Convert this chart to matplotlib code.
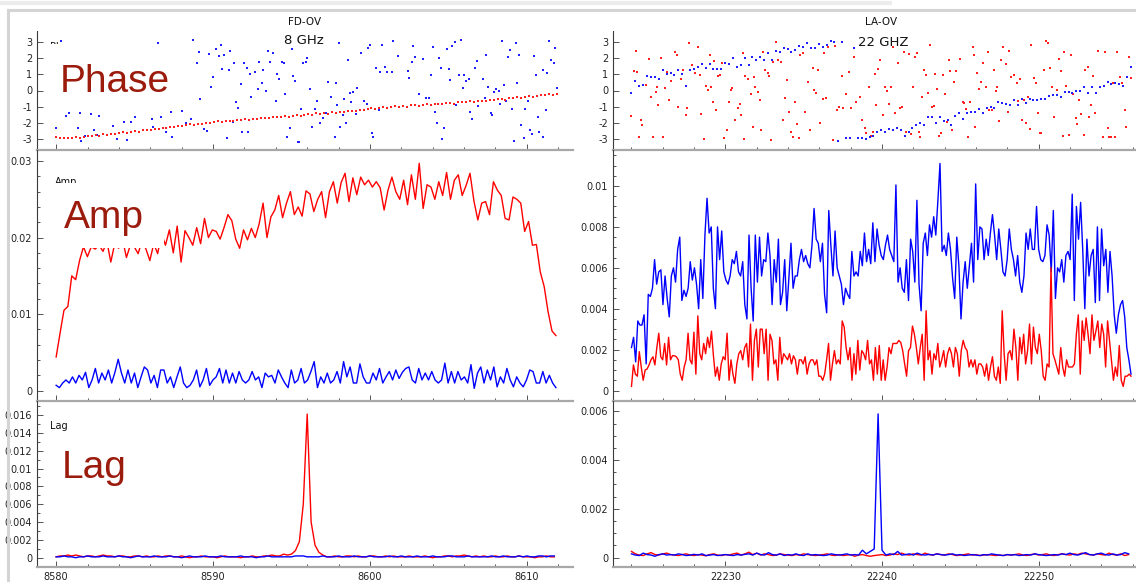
import numpy as np
import matplotlib
matplotlib.use("Agg")
import matplotlib.pyplot as plt
from matplotlib.ticker import MultipleLocator, FuncFormatter
from matplotlib.lines import Line2D
from matplotlib.patches import Rectangle

# ---------------- data ----------------
LEFT_F0, LEFT_F1 = 8580.0, 8612.0
RIGHT_F0, RIGHT_F1 = 22224.0, 22255.9

# Left (8 GHz) phase, red trend (rad)
left_phase_red = [
    -2.86, -2.92, -2.95, -2.90, -2.93, -2.88, -2.91, -2.84, -2.82, -2.78, -2.76, -2.80,
    -2.70, -2.74, -2.66, -2.68, -2.62, -2.58, -2.64, -2.55, -2.50, -2.56, -2.46, -2.43,
    -2.41, -2.36, -2.38, -2.30, -2.32, -2.24, -2.27, -2.19, -2.16, -2.12, -2.08, -2.14,
    -2.04, -2.06, -1.99, -2.01, -1.96, -1.90, -1.94, -1.88, -1.86, -1.89, -1.82, -1.80,
    -1.77, -1.81, -1.74, -1.76, -1.71, -1.68, -1.72, -1.64, -1.62, -1.66, -1.58, -1.60,
    -1.55, -1.51, -1.56, -1.48, -1.46, -1.50, -1.41, -1.44, -1.38, -1.42, -1.34, -1.36,
    -1.30, -1.33, -1.27, -1.24, -1.25, -1.18, -1.21, -1.14, -1.10, -1.14, -1.08, -1.04,
    -1.06, -1.00, -0.98, -1.02, -0.95, -0.99, -0.92, -0.90, -0.93, -0.88, -0.85, -0.89,
    -0.84, -0.80, -0.83, -0.77, -0.76, -0.80, -0.73, -0.71, -0.70, -0.66, -0.72, -0.64,
    -0.62, -0.66, -0.58, -0.60, -0.54, -0.50, -0.56, -0.48, -0.46, -0.42, -0.47, -0.38,
    -0.36, -0.40, -0.32, -0.30, -0.28, -0.24, -0.27, -0.20]

# Left phase, blue scatter (frequency MHz, phase rad)
left_phase_blue_f = [
    8580.0, 8580.3, 8580.6, 8580.85, 8581.4, 8581.5, 8581.6, 8581.85, 8582.25, 8582.4,
    8582.6, 8582.75, 8583.6, 8583.9, 8584.3, 8584.5, 8584.8, 8585.0, 8586.1, 8586.2,
    8586.5, 8586.7, 8587.0, 8587.3, 8587.4, 8588.0, 8588.3, 8588.6, 8588.75, 8589.0,
    8589.1, 8589.2, 8589.4, 8589.6, 8589.75, 8589.9, 8590.0, 8590.2, 8590.35, 8590.5,
    8590.6, 8590.7, 8590.9, 8591.0, 8591.1, 8591.25, 8591.35, 8591.45, 8591.6, 8591.75,
    8591.85, 8592.0, 8592.15, 8592.25, 8592.35, 8592.45, 8592.7, 8592.85, 8592.95, 8593.1,
    8593.2, 8593.35, 8593.5, 8593.6, 8593.8, 8594.0, 8594.1, 8594.2, 8594.4, 8594.5,
    8594.6, 8594.7, 8594.9, 8595.0, 8595.1, 8595.2, 8595.4, 8595.5, 8595.6, 8595.75,
    8595.9, 8596.0, 8596.2, 8596.3, 8596.5, 8596.6, 8596.8, 8597.0, 8597.2, 8597.35,
    8597.5, 8597.75, 8597.85, 8597.9, 8598.0, 8598.1, 8598.25, 8598.35, 8598.5, 8598.6,
    8598.7, 8598.8, 8598.9, 8599.1, 8599.2, 8599.4, 8599.6, 8599.8, 8599.9, 8600.0,
    8600.1, 8600.2, 8600.4, 8600.55, 8600.65,
    8600.77, 8600.98, 8601.1, 8601.4, 8601.5, 8601.8, 8602.4, 8602.5, 8602.65, 8602.75,
    8602.9, 8603.1, 8603.4, 8603.55, 8603.75, 8603.9, 8604.0, 8604.15, 8604.25, 8604.4,
    8604.5, 8604.6, 8604.75, 8604.9, 8605.05, 8605.1, 8605.25, 8605.4, 8605.5, 8605.65,
    8605.8, 8605.9, 8606.0, 8606.1, 8606.3, 8606.4, 8606.5, 8606.7, 8606.8, 8606.9,
    8607.2, 8607.3, 8607.4, 8607.5, 8607.7, 8607.8, 8607.9, 8608.05, 8608.2, 8608.3,
    8608.4, 8608.55, 8608.7, 8608.8, 8608.9, 8609.05, 8609.2, 8609.3, 8609.4, 8609.5,
    8609.65, 8609.8, 8609.9, 8610.05, 8610.2, 8610.3, 8610.45, 8610.6, 8610.7, 8610.8,
    8611.0, 8611.05, 8611.2, 8611.3, 8611.4, 8611.55, 8611.7, 8611.8, 8611.95]
left_phase_blue_p = [
    -2.33, 3.06, -1.57, -1.40, -2.28, -1.36, -3.08, -2.80, -1.43, -2.43,
    -2.73, -1.57, -2.18, -3.00, -1.94, -3.04, -1.92, -1.65, -1.78, -2.22,
    2.95, -1.61, -2.57, -1.30, -2.88, -1.26, -1.98, -1.78, 3.10, 1.71,
    2.38, -0.50, -2.39, -2.47, 2.22, 0.19, 0.81, 2.53, 2.12, 2.80,
    1.30, 2.18, -2.94, 1.26, 2.43, -1.92, 1.71, -0.69, -1.10, 0.40,
    -2.53, 1.71, 1.40, -2.53, 1.01, -0.42, 1.16, 0.09, 1.77, 0.48,
    1.26, -0.01, 2.45, 1.73, 2.28, -0.65, 1.01, 0.69, 1.77, 1.71,
    -0.24, -2.84, -2.33, 2.53, 0.89, 0.58, -3.14, -3.14, -1.16, 1.67,
    1.77, 1.98, 0.09, -2.22, -1.16, -0.63, -1.98, -1.71, -1.40, 0.54,
    -0.38, -2.88, 0.48, -0.89, 2.90, -2.27, -1.51, -0.52, -2.02, 1.87,
    -0.13, -0.69, -0.07, -1.45, 0.13, 2.28, -0.65, -0.83, 2.59, 2.80,
    -2.59, -2.84, 1.36, -1.20, 1.16,
    2.79, 1.42, 1.15, 1.15, 3.06, 2.11, 1.19, 0.78, 1.77, 2.75,
    2.07, -0.20, 1.95, -0.45, -0.45, 0.95, 2.67, -1.35, -1.97, 1.97,
    1.40, -2.99, -2.33, 2.54, 1.31, 0.62, 2.71, 2.97, -0.90, 0.95,
    3.12, 0.17, 0.95, 0.58, 0.70, -1.33, -1.78, 1.40, 1.80, -0.94,
    0.70, -0.45, 2.19, 0.20, -1.41, -1.52, -0.12, 0.10, -0.06, -0.80,
    3.06, 0.31, -0.65, 2.07, 2.52, -1.13, -3.11, 2.93, 0.45, 2.19,
    -2.13, -2.91, -1.15, -0.62, -2.46, -2.66, 2.15, 0.97, -1.62, -2.54,
    -2.85, 1.25, -1.17, 1.09, 3.06, 1.87, 1.70, 2.61, 0.17]

# Right (22 GHz) phase, blue (rad), evenly spaced channels
right_phase_blue = [
    -0.13, 0.60, 0.30, 0.32, 0.90, 0.80, 0.85, 0.70, 1.25, 1.00,
    1.10, 0.95, 1.25, 1.00, 0.30, 1.25, 1.30, 1.45, 1.65, 1.40,
    1.60, 1.30, 1.35, 1.30, 1.70, 1.65, 2.00, 1.45, 1.55, 2.00,
    1.55, 2.05, 1.90, 2.05, 1.90, 2.30, 1.90, 2.45, 2.35, 2.60,
    2.55, 2.35, 2.50, 2.75, 2.70, 2.90, 2.60, 2.60, 2.85, 2.65,
    2.80, 3.05, 3.00, -3.13, 3.00, -2.95, -2.90, 2.63, -2.95, -2.95,
    -2.98, -2.85, -2.82, -2.55, -2.40, -2.55, -2.35, -2.40, -2.30, -2.45,
    -2.80, -2.55, -2.30, -2.10, -2.00, -2.10, -1.60, -1.65, -2.00, -1.65,
    -1.90, -1.80, -2.10, -1.55, -1.40, -1.75, -1.40, -1.35, -1.30, -1.15,
    -1.40, -1.10, -1.00, -1.05, -0.70, -0.75, -0.85, -0.90, -0.60, -0.90,
    -0.55, -0.75, -0.50, -0.60, -0.60, -0.55, -0.50, -0.35, -0.25, -0.28,
    -0.40, -0.10, -0.10, -0.17, 0.00, -0.05, 0.20, -0.13, 0.20, -0.15,
    0.20, 0.30, 0.50, 0.40, 0.45, 0.40, 0.30, 0.80, 1.45]

# Right phase, red scatter (frequency MHz, phase rad)
right_phase_red_f = [
    22224.0, 22224.14, 22224.3, 22224.37, 22224.49, 22224.61, 22224.7, 22224.94, 22225.12, 22225.24,
    22225.36, 22225.55, 22225.64, 22225.71, 22225.87, 22225.99, 22226.13, 22226.3, 22226.41, 22226.53,
    22226.76, 22226.88, 22227.0, 22227.16, 22227.28, 22227.47, 22227.56, 22227.7, 22227.86, 22228.05,
    22228.22, 22228.4, 22228.47, 22228.64, 22228.75, 22228.87, 22228.99, 22229.11, 22229.18, 22229.29,
    22229.41, 22229.53, 22229.64, 22229.76, 22229.92, 22230.09, 22230.23, 22230.35, 22230.44, 22230.63,
    22230.81, 22230.91, 22231.0, 22231.1, 22231.21, 22231.28, 22231.45, 22231.61, 22231.73, 22231.8,
    22231.92, 22232.1, 22232.22, 22232.29, 22232.38, 22232.5, 22232.69, 22232.78, 22232.92, 22233.04,
    22233.2, 22233.37, 22233.55, 22233.67, 22233.79, 22233.95, 22234.07, 22234.19, 22234.3, 22234.42,
    22234.54, 22234.68, 22234.77, 22234.96, 22235.08, 22235.26, 22235.43, 22235.57, 22235.66, 22235.78,
    22235.94, 22236.06, 22236.2, 22236.32, 22236.41, 22236.53, 22236.88, 22237.02, 22237.11, 22237.23,
    22237.42, 22237.54, 22237.72, 22237.89, 22238.0, 22238.24, 22238.36, 22238.59, 22238.75, 22238.89,
    22238.99, 22239.18, 22239.29, 22239.41, 22239.53, 22239.64, 22239.76, 22239.88, 22240.07, 22240.18,
    22240.3, 22240.46, 22240.58, 22240.7, 22240.86, 22241.0, 22241.17, 22241.28, 22241.4, 22241.56,
    22241.7, 22241.87, 22241.99, 22242.1, 22242.22, 22242.34, 22242.45, 22242.57, 22242.69, 22242.81,
    22242.92, 22243.04, 22243.2, 22243.32, 22243.39, 22243.51, 22243.63, 22243.74, 22243.91, 22244.02,
    22244.14, 22244.28, 22244.37, 22244.49, 22244.61, 22244.73, 22244.98, 22245.15, 22245.26, 22245.38,
    22245.5, 22245.62, 22245.78, 22245.85, 22245.97, 22246.08, 22246.2, 22246.32, 22246.48, 22246.67,
    22246.79, 22246.86, 22247.02, 22247.14, 22247.26, 22247.37, 22247.49, 22247.61, 22247.72, 22247.89,
    22248.03, 22248.12, 22248.26, 22248.43, 22248.59, 22248.71, 22248.82, 22248.96, 22249.08, 22249.2,
    22249.32, 22249.43, 22249.53, 22249.71, 22249.83, 22249.95, 22250.07, 22250.18, 22250.35, 22250.46,
    22250.58, 22250.72, 22250.84, 22251.0, 22251.17, 22251.28, 22251.4, 22251.54, 22251.63, 22251.78,
    22251.94, 22252.06, 22252.22, 22252.36, 22252.48, 22252.57, 22252.71, 22252.88, 22252.99, 22253.16,
    22253.23, 22253.34, 22253.46, 22253.63, 22253.81, 22253.93, 22254.12, 22254.21, 22254.4, 22254.52,
    22254.63, 22254.75, 22254.87, 22255.03, 22255.22, 22255.33, 22255.5, 22255.57, 22255.76, 22255.87]
right_phase_red_p = [
    -1.57, 1.20, 2.43, 1.14, -2.84, -1.81, -2.12, 0.34, 1.96, -0.38,
    -2.88, -0.07, 0.19, -0.89, 1.98, -2.84, 0.17, 1.16, -0.58, 0.60,
    2.39, 2.18, -0.99, 0.69, 1.26, -1.51, -1.10, 2.90, 1.57, 1.06,
    2.69, 0.95, -1.47, -3.00, 0.30, 0.03, 2.18, 0.19, -0.69, 1.83,
    -1.20, 0.89, 0.95, 1.71, -2.94, -2.43, -0.73, 0.03, 0.13, -1.81,
    -1.10, -0.83, -1.51, 2.28, -3.00, 0.89, 0.69, -0.24, -2.22, 0.85,
    0.19, -0.07, -0.58, -2.43, 2.39, 1.26, 1.10, 0.89, -3.04, 1.73,
    3.00, 1.88, 1.77, -1.81, -0.48, 0.65, -1.30, -2.53, -2.84, -0.69,
    -2.06, -2.94, 2.18, 2.28, -1.30, 0.54, -2.43, 1.36, 0.03, -0.17,
    1.26, -1.98, -0.54, 2.28, -0.48, 2.69, -3.04, 2.74, -1.20, -0.99,
    0.89, -1.06, -0.22, 1.16, -1.06, 2.08, -0.69, -0.42, -1.81, -2.33,
    -2.59, 0.19, -2.80, -2.53, 1.01, -0.89, 1.30, 1.88, -1.51, 0.19,
    -0.03, -0.83, 0.24, 2.69, -1.36, 1.71, -1.06, -0.99, 2.39, -2.53,
    2.22, -2.69, 0.24, 2.08, 2.32, -2.53, -2.84, -0.38, 1.26, 0.95,
    -0.13, 2.80, -1.03, -0.95, 0.99, 0.07, -2.80, -2.63, 0.95, -0.22,
    -1.92, 1.88, 1.22, -2.43, 0.54, 1.22, 1.92, -0.69, -0.79, -1.16,
    -2.84, -0.69, 2.69, 2.18, -2.22, 1.06, 0.07, 0.54, 1.71, 0.19,
    2.39, -1.20, -1.20, 1.26, -0.01, 0.24, -1.85, 1.88, 2.69, 1.63,
    -1.30, 2.45, 0.85, 0.95, 0.44, -0.63, 0.69, -1.81, -0.58, -2.02,
    -0.38, -2.39, 2.80, 0.75, 0.48, -1.36, -2.63, -2.63, 1.26, 3.06,
    2.90, 1.36, 0.19, -1.61, 0.03, 1.92, 1.22, -2.80, 2.39, 0.28,
    -2.74, 2.18, -0.22, -1.71, -2.06, -0.58, -1.47, -2.74, 1.26, 1.47,
    -1.61, -0.89, 0.89, -1.40, 2.45, 0.19, -2.84, 2.39, -2.33, -2.84,
    -2.84, 0.44, -2.84, 2.39, 0.85, 0.44, -1.20, -2.22, 2.08, 0.75]

# Amplitudes (units of 1e-3)
left_amp_red = [
    4.4, 7.5, 10.5, 11.0, 15.0, 14.5, 17.0, 18.8, 17.5, 18.8,
    18.5, 19.0, 18.2, 19.5, 16.8, 19.2, 18.6, 19.8, 17.4, 19.0,
    18.8, 17.9, 19.6, 18.5, 17.0, 19.2, 17.9, 20.5, 19.0, 21.0,
    18.0, 21.5, 16.8, 20.9, 20.0, 19.0, 21.3, 19.2, 22.5, 20.0,
    21.0, 20.8, 19.8, 21.3, 23.0, 22.2, 19.8, 18.6, 21.0, 19.7,
    21.2, 20.0, 21.8, 24.5, 20.0, 22.7, 23.6, 25.5, 22.6, 24.5,
    26.0, 23.0, 24.0, 22.8, 26.1, 25.7, 23.4, 25.0, 26.0, 22.6,
    26.0, 27.3, 24.5, 27.2, 28.4, 24.7, 27.8, 25.6, 27.9, 26.9,
    27.5, 26.6, 27.3, 26.5, 23.6, 26.2, 27.9, 26.0, 25.0, 27.5,
    24.3, 28.2, 25.0, 29.7, 23.8, 26.9, 26.6, 25.0, 27.3, 25.5,
    28.5, 25.0, 27.5, 28.2, 25.5, 26.8, 28.4, 24.8, 22.3, 24.5,
    24.7, 23.0, 27.3, 26.2, 25.5, 22.5, 22.3, 25.3, 25.0, 24.5,
    20.8, 22.1, 19.0, 19.1, 15.5, 13.6, 10.3, 7.8, 7.2]
left_amp_blue = [
    0.7, 0.4, 1.0, 1.4, 1.0, 1.8, 1.0, 2.0, 1.4, 2.4,
    0.4, 1.4, 2.9, 1.0, 2.3, 1.4, 2.7, 1.0, 2.4, 4.1,
    2.3, 1.0, 2.7, 1.0, 2.3, 0.4, 1.8, 3.1, 2.7, 1.0,
    2.0, 0.4, 2.7, 2.7, 1.0, 1.8, 0.4, 1.8, 3.1, 1.0,
    0.4, 0.7, 1.4, 2.7, 0.5, 1.4, 2.9, 0.7, 1.4, 1.8,
    2.9, 1.0, 2.7, 1.0, 2.3, 1.0, 2.5, 1.4, 1.0, 1.4,
    2.5, 1.4, 1.8, 0.4, 2.3, 1.8, 2.0, 1.0, 2.7, 1.8,
    1.0, 0.4, 2.7, 1.0, 1.4, 2.9, 1.0, 1.4, 2.5, 3.8,
    0.4, 1.8, 1.0, 2.3, 1.0, 1.4, 2.5, 1.0, 3.8, 1.8,
    3.1, 1.0, 1.0, 3.5, 1.8, 1.0, 1.0, 2.3,
    1.4, 2.9, 1.0, 1.8, 2.5, 1.4, 2.7, 1.6, 2.4, 2.9,
    3.1, 1.4, 1.0, 2.9, 1.4, 2.3, 1.4, 2.5, 1.4, 1.0,
    1.4, 3.6, 1.0, 2.5, 1.0, 2.5, 1.4, 1.8, 1.0, 3.4,
    0.3, 2.3, 3.1, 1.0, 2.7, 1.4, 3.1, 0.5, 1.8, 1.0,
    2.9, 1.4, 0.5, 1.8, 1.0, 0.5, 1.4, 2.7, 2.5, 1.0,
    1.0, 2.5, 1.0, 2.0, 1.0, 0.4]
LEFT_BLUE_AMP_END = 8611.85

right_amp_blue = [
    2.1, 2.6, 1.4, 3.4, 3.2, 3.2, 3.7, 1.3, 4.7, 4.6,
    5.0, 6.4, 5.2, 5.8, 5.9, 4.2, 5.6, 4.5, 3.6, 5.6,
    6.0, 5.3, 6.9, 7.5, 4.4, 4.9, 4.6, 5.0, 6.3, 5.4,
    6.0, 5.2, 4.0, 6.4, 4.5, 7.6, 9.4, 7.7, 8.0, 5.0,
    4.0, 8.0, 6.4, 7.8, 5.8, 5.4, 5.2, 5.6, 6.4, 6.2,
    6.8, 5.8, 5.6, 6.3, 4.2, 3.5, 7.6, 5.0, 3.4, 7.6,
    5.3, 7.5, 5.6, 6.4, 6.3, 7.7, 6.6, 4.2, 6.4, 5.3,
    7.4, 4.2, 4.8, 6.4, 3.9, 5.5, 7.2, 5.0, 5.6, 5.6,
    6.4, 6.9, 6.3, 6.6, 6.2, 6.0, 7.1, 8.9, 7.4, 7.2,
    6.3, 7.2, 4.7, 3.8, 8.8, 7.1, 5.6, 7.8, 6.0, 5.6,
    5.2, 4.2, 5.0, 4.7, 4.5, 6.8, 5.6, 5.8, 5.6, 6.8,
    6.1, 7.7, 6.3, 6.9, 6.2, 8.2, 6.3, 7.9, 7.1, 6.6,
    6.4, 7.1, 7.6, 6.9, 6.6, 6.3, 10.05, 5.3, 6.0, 5.0,
    4.8, 6.4, 4.4, 7.4, 6.8, 5.3, 9.3, 5.2, 3.9, 7.2,
    7.7, 6.6, 8.1, 7.5, 8.5, 7.6, 9.3, 11.1, 6.8, 7.1,
    6.6, 7.7, 6.9, 5.5, 4.5, 7.5, 6.1, 3.5, 5.3, 6.3,
    5.0, 6.1, 7.2, 5.3, 10.1, 6.4, 8.0, 7.9, 6.4, 7.4,
    6.6, 7.7, 8.6, 7.6, 6.4, 7.9, 6.9, 5.8, 5.6, 6.4,
    7.9, 6.9, 6.4, 5.6, 6.6, 5.3, 4.8, 5.6, 7.7, 6.9,
    7.9, 6.9, 6.9, 9.0, 6.9, 6.4, 6.3, 6.6, 8.1, 7.6,
    5.8, 8.8, 4.5, 6.0, 5.8, 6.4, 5.3, 6.6, 6.8, 6.4,
    9.6, 4.4, 9.0, 7.4, 9.2, 6.9, 4.0, 7.4, 5.6, 6.6,
    6.9, 4.3, 8.0, 4.4, 7.9, 6.1, 6.9, 4.8, 6.8, 5.6,
    3.7, 2.8, 3.7, 4.2, 4.4, 3.6, 2.1, 1.5, 0.8]
right_amp_red = [
    0.2, 1.25, 0.8, 0.7, 1.9, 1.15, 0.5, 1.0, 1.05, 1.25,
    1.5, 1.65, 1.25, 2.1, 2.8, 1.65, 1.5, 2.3, 1.25, 2.6,
    1.5, 1.7, 1.7, 1.65, 1.5, 0.8, 0.5, 1.15, 1.5, 2.8,
    1.5, 1.3, 2.85, 0.8, 3.65, 1.8, 1.5, 2.3, 1.8, 2.6,
    2.1, 2.9, 1.7, 0.7, 1.15, 0.5, 1.3, 1.65, 1.5, 2.8,
    0.5, 1.5, 0.8, 0.35, 1.3, 1.8, 1.95, 1.5, 2.1, 2.3,
    1.15, 3.25, 0.5, 2.45, 3.0, 1.15, 3.0, 3.0, 1.8, 3.0,
    0.5, 2.75, 2.45, 1.3, 1.5, 0.5, 2.6, 1.3, 1.8, 1.65,
    1.5, 1.8, 1.3, 1.7, 1.5, 0.8, 1.5, 1.5, 1.3, 1.65,
    0.8, 1.3, 1.5, 1.5, 1.25, 1.5, 0.7, 0.7, 0.5, 0.8,
    1.5, 2.3, 0.5, 1.3, 1.95, 1.3, 1.5, 1.3, 3.4, 3.1,
    2.1, 1.5, 2.1, 0.5, 1.8, 0.8, 2.45, 1.0, 1.95, 1.8,
    1.5, 2.45, 1.3, 1.5, 0.5, 2.1, 0.8, 2.2, 0.5, 1.5,
    0.5, 1.15, 2.1, 1.8, 2.3, 2.3, 2.3, 2.45, 2.35, 1.95,
    1.3, 0.7, 1.95, 2.1, 3.15, 2.75, 2.1, 1.3, 2.1, 2.75,
    0.5, 3.9, 1.5, 1.95, 0.8, 1.8, 1.5, 2.3, 1.15, 1.5,
    1.95, 1.15, 1.8, 2.1, 1.8, 1.15, 2.1, 1.8, 0.7, 1.95,
    2.45, 2.1, 1.95, 1.15, 1.5, 1.15, 1.5, 0.8, 1.3, 1.3,
    1.15, 0.7, 1.3, 0.5, 1.15, 1.65, 0.7, 0.5, 1.15, 0.35,
    3.9, 1.8, 0.5, 1.8, 1.95, 1.5, 3.0, 2.1, 0.5, 2.6,
    1.8, 2.75, 1.3, 1.95, 3.25, 1.3, 3.1, 2.1, 1.8, 2.75,
    1.95, 0.7, 0.5, 1.3, 1.15, 6.0, 1.8, 1.5, 1.15, 0.8,
    2.1, 1.15, 0.7, 1.5, 1.15, 1.15, 1.15, 1.3, 2.75, 3.7,
    0.8, 3.4, 2.45, 3.55, 2.75, 1.8, 3.7, 2.45, 2.9, 3.4,
    2.1, 3.25, 2.75, 1.15, 3.4, 2.45, 1.5, 0.5, 1.15, 0.7,
    2.2, 0.5, 0.2, 0.7, 0.7, 0.8, 0.7]

# Lag (units of 1e-4), 0.25 MHz channels
left_lag_red = [
    1, 2, 2, 3, 2, 3, 2, 1, 2, 2,
    1, 2, 3, 2, 2, 1, 2, 2, 1, 1,
    2, 2, 1, 2, 1, 1, 2, 1, 2, 2,
    1, 1, 2, 1, 0, 1, 1, 2, 1, 1,
    1, 0, 1, 2, 1, 1, 1, 0, 1, 1,
    2, 1, 1, 2, 2, 3, 2, 2, 4, 3,
    4, 8, 18, 60, 161, 40, 14, 6, 3, 1,
    1, 2, 1, 1, 2, 2, 1, 2, 1, 1,
    2, 2, 1, 1, 2, 1, 2, 1, 1, 1,
    2, 1, 1, 1, 2, 1, 0, 1, 1, 2,
    2, 1, 2, 2, 3, 2, 1, 2, 1, 2,
    1, 1, 2, 1, 1, 2, 1, 1, 2, 1,
    1, 1, 0, 1, 1, 2, 1, 1]
left_lag_blue = [
    1, 1, 2, 1, 1, 0, 1, 1, 2, 1,
    1, 1, 2, 1, 1, 1, 2, 1, 1, 0,
    1, 2, 1, 1, 1, 2, 1, 1, 1, 2,
    1, 1, 0, 1, 2, 1, 1, 1, 2, 1,
    1, 1, 2, 1, 1, 1, 1, 2, 1, 1,
    1, 0, 1, 1, 2, 1, 1, 1, 1, 1,
    1, 2, 2, 2, 1, 1, 1, 1, 2, 1,
    1, 1, 2, 1, 1, 1, 2, 1, 1, 1,
    2, 1, 1, 1, 1, 2, 1, 1, 2, 1,
    1, 1, 2, 1, 1, 1, 2, 1, 1, 1,
    2, 2, 1, 1, 1, 2, 1, 1, 1, 1,
    1, 2, 1, 1, 2, 1, 1, 1, 2, 1,
    2, 1, 1, 2, 2, 1, 2, 2]
right_lag_red = [
    2.5, 1.5, 1.0, 0.8, 1.5, 2.0, 1.2, 1.0, 1.5, 1.8,
    1.2, 1.0, 0.8, 1.2, 1.5, 1.0, 0.8, 1.2, 1.0, 0.7,
    1.2, 1.5, 1.0, 0.8, 1.2, 1.0, 1.5, 1.8, 1.0, 1.5,
    2.2, 1.2, 1.8, 1.0, 1.5, 1.2, 0.8, 1.0, 1.5, 1.2,
    1.0, 0.8, 1.2, 1.0, 1.5, 1.2, 1.0, 0.8, 1.0, 1.2,
    1.5, 1.0, 0.8, 1.2, 0.8, 1.0, 1.2, 0.5, 1.0, 1.2,
    0.8, 0.5, 0.8, 1.0, 1.2, 0.8, 1.0, 1.5, 1.2, 1.8,
    1.2, 1.0, 1.5, 1.2, 1.0, 1.8, 1.2, 1.0, 1.5, 1.2,
    1.0, 1.5, 1.2, 0.8, 1.0, 1.2, 1.5, 1.0, 1.2, 0.8,
    1.0, 1.2, 1.0, 0.8, 1.0, 0.8, 1.2, 1.0, 1.2, 1.5,
    1.0, 0.8, 1.2, 1.5, 1.0, 1.2, 1.5, 1.0, 0.8, 1.2,
    1.5, 1.2, 1.0, 1.5, 1.2, 1.8, 1.5, 1.2, 1.0, 1.5,
    1.2, 1.0, 1.8, 1.2, 1.0, 1.5, 0.8, 1.2]
right_lag_blue = [
    1.5, 1.0, 0.8, 1.8, 1.2, 1.0, 0.5, 1.2, 1.5, 1.0,
    1.2, 1.0, 1.5, 1.2, 0.8, 1.0, 1.3, 1.0, 1.5, 0.8,
    1.0, 1.2, 0.8, 1.0, 1.2, 1.0, 0.8, 1.2, 1.0, 1.3,
    1.5, 1.0, 1.8, 1.2, 1.0, 2.0, 1.2, 1.0, 1.5, 0.8,
    1.2, 1.0, 1.5, 1.0, 0.8, 1.5, 1.0, 1.2, 1.0, 0.8,
    1.0, 1.5, 1.2, 1.0, 1.2, 1.5, 1.0, 1.2, 1.0, 3.0,
    1.5, 2.5, 3.5, 59.0, 3.0, 1.0, 1.5, 1.2, 2.5, 1.0,
    1.2, 1.5, 1.0, 1.8, 1.2, 1.0, 1.3, 1.0, 1.5, 1.2,
    1.0, 1.2, 1.5, 1.0, 1.2, 0.8, 1.0, 1.2, 1.0, 0.8,
    1.2, 1.0, 1.5, 1.2, 1.0, 0.8, 1.2, 1.0, 1.2, 0.8,
    1.0, 1.2, 1.0, 1.5, 1.2, 1.0, 0.8, 1.0, 1.2, 1.0,
    1.5, 1.2, 1.8, 1.2, 1.0, 1.5, 2.0, 1.2, 1.0, 1.5,
    1.8, 1.2, 1.0, 1.5, 1.0, 1.2, 2.0, 1.5]
LAG_STEP = 0.25

col_titles = ["FD-OV", "LA-OV"]
band_labels = ["8 GHz", "22 GHZ"]
row_labels = ["Phase", "Amp", "Lag"]

# ---------------- layout ----------------
W, H = 1136, 582
fig = plt.figure(figsize=(W / 100, H / 100), dpi=100)
fig.patch.set_facecolor("white")

COLS = {"L": (37, 573), "R": (613, 1136)}
ROWS = {"phase": (31, 150), "amp": (150, 401), "lag": (401, 567)}
XLIM = {"L": (8578.78, 8612.94), "R": (22222.82, 22256.22)}
TICK_FS = 7
DARKRED = "#9b1b0c"


def add_ax(col, row):
    x0, x1 = COLS[col]
    y0, y1 = ROWS[row]
    ax = fig.add_axes([x0 / W, 1 - y1 / H, (x1 - x0) / W, (y1 - y0) / H])
    ax.set_facecolor("none")
    ax.spines["top"].set_visible(False)
    ax.spines["right"].set_visible(False)
    ax.spines["left"].set_color("#3a3a3a")
    ax.spines["left"].set_linewidth(0.8)
    ax.spines["bottom"].set_color("#a8a8a8")
    ax.spines["bottom"].set_linewidth(1.6)
    ax.set_xlim(*XLIM[col])
    ax.xaxis.set_major_locator(MultipleLocator(10))
    ax.xaxis.set_minor_locator(MultipleLocator(2))
    ax.tick_params(which="both", direction="in", colors="#555555",
                   labelcolor="#222222", labelsize=TICK_FS, width=0.7)
    ax.tick_params(which="major", length=4, pad=3.5)
    ax.tick_params(which="minor", length=2.2)
    ax.tick_params(axis="x", labelbottom=(row == "lag"))
    ax.yaxis.set_major_formatter(FuncFormatter(lambda v, p: "%g" % round(v, 6)))
    ax.xaxis.set_major_formatter(FuncFormatter(lambda v, p: "%d" % round(v)))
    return ax

# ---- Phase ----
for col in ("L", "R"):
    ax = add_ax(col, "phase")
    ax.set_ylim(-3.66, 3.66)
    ax.yaxis.set_major_locator(MultipleLocator(1))
    if col == "L":
        xr = np.linspace(LEFT_F0, 8611.9, len(left_phase_red))
        ax.plot(left_phase_blue_f, left_phase_blue_p, ls="none", marker="s",
                ms=1.7, mew=0, color="#2020ff")
        ax.plot(xr, left_phase_red, ls="none", marker="s", ms=1.7, mew=0,
                color="#ff2020")
    else:
        xb = np.linspace(RIGHT_F0, RIGHT_F1, len(right_phase_blue))
        ax.plot(right_phase_red_f, right_phase_red_p, ls="none", marker="s",
                ms=1.7, mew=0, color="#ff2020")
        ax.plot(xb, right_phase_blue, ls="none", marker="s", ms=1.7, mew=0,
                color="#2020ff")

# ---- Amp ----
axL = add_ax("L", "amp")
axL.set_ylim(-0.00135, 0.03144)
axL.yaxis.set_major_locator(MultipleLocator(0.01))
axL.yaxis.set_minor_locator(MultipleLocator(0.002))
axL.plot(np.linspace(LEFT_F0, LEFT_BLUE_AMP_END, len(left_amp_blue)),
         np.array(left_amp_blue) * 1e-3, color="#0000ff", lw=1.0)
axL.plot(np.linspace(LEFT_F0, 8611.85, len(left_amp_red)),
         np.array(left_amp_red) * 1e-3, color="#ff0000", lw=1.0)

axR = add_ax("R", "amp")
axR.set_ylim(-0.000513, 0.01176)
axR.yaxis.set_major_locator(MultipleLocator(0.002))
axR.yaxis.set_minor_locator(MultipleLocator(0.0005))
axR.plot(np.linspace(RIGHT_F0, RIGHT_F1, len(right_amp_blue)),
         np.array(right_amp_blue) * 1e-3, color="#0000ff", lw=1.0)
axR.plot(np.linspace(RIGHT_F0, RIGHT_F1, len(right_amp_red)),
         np.array(right_amp_red) * 1e-3, color="#ff0000", lw=1.0)

# ---- Lag ----
lagL = add_ax("L", "lag")
lagL.set_ylim(-0.00104, 0.01757)
lagL.yaxis.set_major_locator(MultipleLocator(0.002))
lagL.yaxis.set_minor_locator(MultipleLocator(0.001))
xl = LEFT_F0 + LAG_STEP * np.arange(len(left_lag_red))
lagL.plot(xl, np.array(left_lag_red) * 1e-4, color="#ff0000", lw=1.0)
xl2 = LEFT_F0 + LAG_STEP * np.arange(len(left_lag_blue))
lagL.plot(xl2, np.array(left_lag_blue) * 1e-4, color="#0000ff", lw=1.0)

lagR = add_ax("R", "lag")
lagR.set_ylim(-0.00039, 0.00643)
lagR.yaxis.set_major_locator(MultipleLocator(0.002))
lagR.yaxis.set_minor_locator(MultipleLocator(0.0005))
xr1 = RIGHT_F0 + LAG_STEP * np.arange(len(right_lag_red))
lagR.plot(xr1, np.array(right_lag_red) * 1e-4, color="#ff0000", lw=1.0)
xr2 = RIGHT_F0 + LAG_STEP * np.arange(len(right_lag_blue))
lagR.plot(xr2, np.array(right_lag_blue) * 1e-4, color="#0000ff", lw=1.0)

# ---------------- texts ----------------
def ftext(px, py, s, **kw):
    return fig.text(px / W, 1 - py / H, s, **kw)


def white_box(x0, y0, x1, y1):
    fig.add_artist(Rectangle((x0 / W, 1 - y1 / H), (x1 - x0) / W, (y1 - y0) / H,
                             transform=fig.transFigure, facecolor="white",
                             edgecolor="none", zorder=9))

ftext(305, 22, col_titles[0], fontsize=7.5, ha="center", va="center", color="#111111")
ftext(881, 22, col_titles[1], fontsize=7.5, ha="center", va="center", color="#111111")
ftext(304, 41, band_labels[0], fontsize=9.5, ha="center", va="center", color="#111111")
ftext(883, 42, band_labels[1], fontsize=9.5, ha="center", va="center", color="#111111")

# small in-plot labels (partly hidden behind the big labels)
ftext(50, 50, row_labels[0], fontsize=7, va="baseline", color="#111111", zorder=5)
ftext(55, 185, row_labels[1], fontsize=7, va="baseline", color="#111111", zorder=5)
ftext(50, 429, row_labels[2], fontsize=7, va="baseline", color="#111111", zorder=5)

# white label backgrounds covering part of the plots
white_box(44, 44.5, 190, 110)
white_box(44, 183, 164, 248)
white_box(44, 437, 140, 500)

big = dict(fontsize=28, family="Liberation Sans", color=DARKRED, va="baseline", zorder=10)
ftext(60, 92, row_labels[0], **big)
ftext(64, 228, row_labels[1], **big)
ftext(62, 478, row_labels[2], **big)

# screenshot frame
fig.add_artist(Line2D([8 / W, 8 / W], [1 - 10 / H, 0], transform=fig.transFigure,
                      color="#d4d4d4", lw=2.2, zorder=20))
fig.add_artist(Line2D([8 / W, 1], [1 - 10 / H, 1 - 10 / H], transform=fig.transFigure,
                      color="#d4d4d4", lw=2.2, zorder=20))
fig.add_artist(Line2D([0, 890 / W], [1 - 3 / H, 1 - 3 / H], transform=fig.transFigure,
                      color="#ececec", lw=3, zorder=20))

fig.savefig("out.png", dpi=100, facecolor="white")
